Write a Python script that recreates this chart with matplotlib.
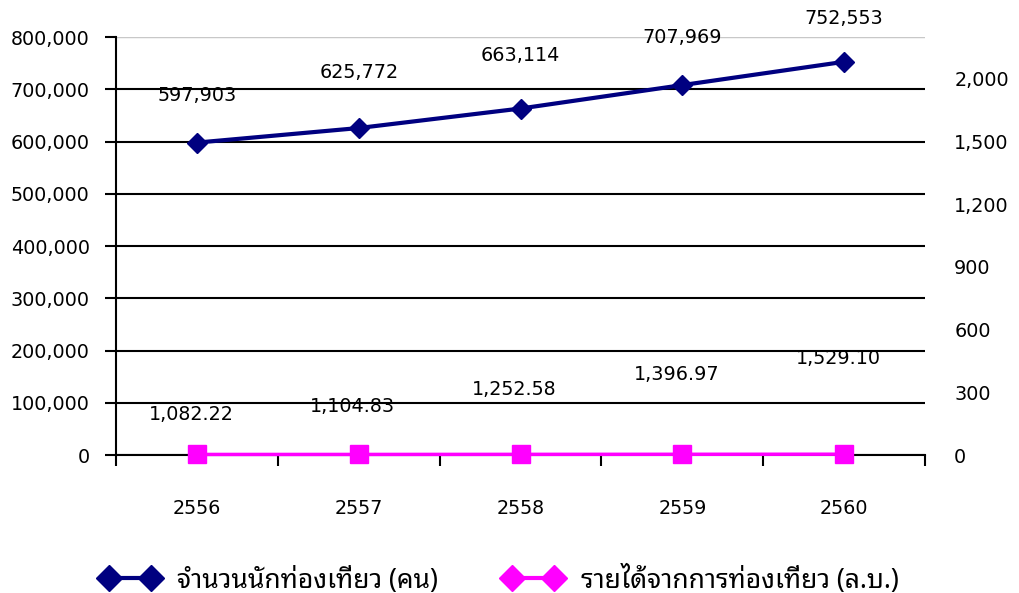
import matplotlib
matplotlib.use('Agg')
import matplotlib.pyplot as plt
from matplotlib import font_manager
from matplotlib.lines import Line2D

years = ['2556', '2557', '2558', '2559', '2560']
tourists = [597903, 625772, 663114, 707969, 752553]
income = [1082.22, 1104.83, 1252.58, 1396.97, 1529.10]
left_ticks = [0, 100000, 200000, 300000, 400000, 500000, 600000, 700000, 800000]
right_ticks = [0, 300, 600, 900, 1200, 1500, 1800]
right_labels = ['0', '300', '600', '900', '1,200', '1,500', '2,000']
series_names = ['จำนวนนักท่องเที่ยว (คน)', 'รายได้จากการท่องเที่ยว (ล.บ.)']

# pick a Thai font that is installed
installed = {f.name for f in font_manager.fontManager.ttflist}
thai_font = 'DejaVu Sans'
for name in ['Noto Sans Thai Looped', 'Sarabun', 'Noto Sans Thai', 'Anuphan', 'Athiti']:
    if name in installed:
        thai_font = name
        break

plt.rcParams['font.family'] = ['DejaVu Sans', thai_font]
fs = 13.8
navy = '#000080'
pink = '#ff00ff'

fig = plt.figure(figsize=(10.2, 5.93), dpi=100)
ax = fig.add_axes([0.1137, 0.2327, 0.7932, 0.7049])
x = list(range(len(years)))

ax.set_xlim(-0.5, len(years) - 0.5)
ax.set_ylim(0, 800000)
ax.set_yticks(left_ticks)
ax.set_yticklabels(['{:,}'.format(v) for v in left_ticks], fontsize=fs)
ax.grid(axis='y', color='black', linewidth=1.5)
ax.set_axisbelow(True)
ax.axhline(800000, color='#c8c8c8', linewidth=1.5, zorder=1)

ax.plot(x, tourists, color=navy, linewidth=3, marker='D', markersize=10.5, zorder=4)
ax.plot(x, income, color=pink, linewidth=2.5, marker='s', markersize=13.5,
        zorder=4, clip_on=False)

for xi, v, dy in zip(x, tourists, [47, 56, 53, 48, 43]):
    ax.annotate('{:,}'.format(v), (xi, v), xytext=(0, dy), textcoords='offset pixels',
                ha='center', va='center', fontsize=fs)
for xi, v, dy in zip(x, income, [40, 48, 65, 80, 96]):
    ax.annotate('{:,.2f}'.format(v), (xi, v), xytext=(-6, dy), textcoords='offset pixels',
                ha='center', va='center', fontsize=fs)

ax.set_xticks(x)
ax.set_xticklabels(years, fontsize=fs)
ax.tick_params(axis='x', which='major', length=0, pad=32)
ax.set_xticks([i - 0.5 for i in range(len(years) + 1)], minor=True)
ax.tick_params(axis='x', which='minor', length=8, width=1.5, direction='out')
ax.tick_params(axis='y', length=8, width=1.5, pad=11)

for s in ['top', 'right']:
    ax.spines[s].set_visible(False)
ax.spines['left'].set_linewidth(1.5)
ax.spines['bottom'].set_linewidth(1.5)
ax.spines['left'].set_bounds(0, 800000)

ax2 = ax.twinx()
ax2.set_ylim(0, 2000)
ax2.set_yticks(right_ticks)
ax2.set_yticklabels(right_labels, fontsize=fs)
ax2.tick_params(axis='y', length=0, pad=21)
for s in ax2.spines.values():
    s.set_visible(False)

handles = [
    Line2D([], [], color=navy, linewidth=3, marker='D', markersize=13),
    Line2D([], [], color=pink, linewidth=3, marker='D', markersize=13),
]
fig.legend(handles, series_names, loc='center', bbox_to_anchor=(0.49, 0.022),
           ncol=2, frameon=False, numpoints=2, handlelength=2.2,
           handletextpad=0.7, columnspacing=2.5,
           prop={'family': [thai_font, 'DejaVu Sans'], 'size': 19})

fig.savefig('out.png', dpi=100)
